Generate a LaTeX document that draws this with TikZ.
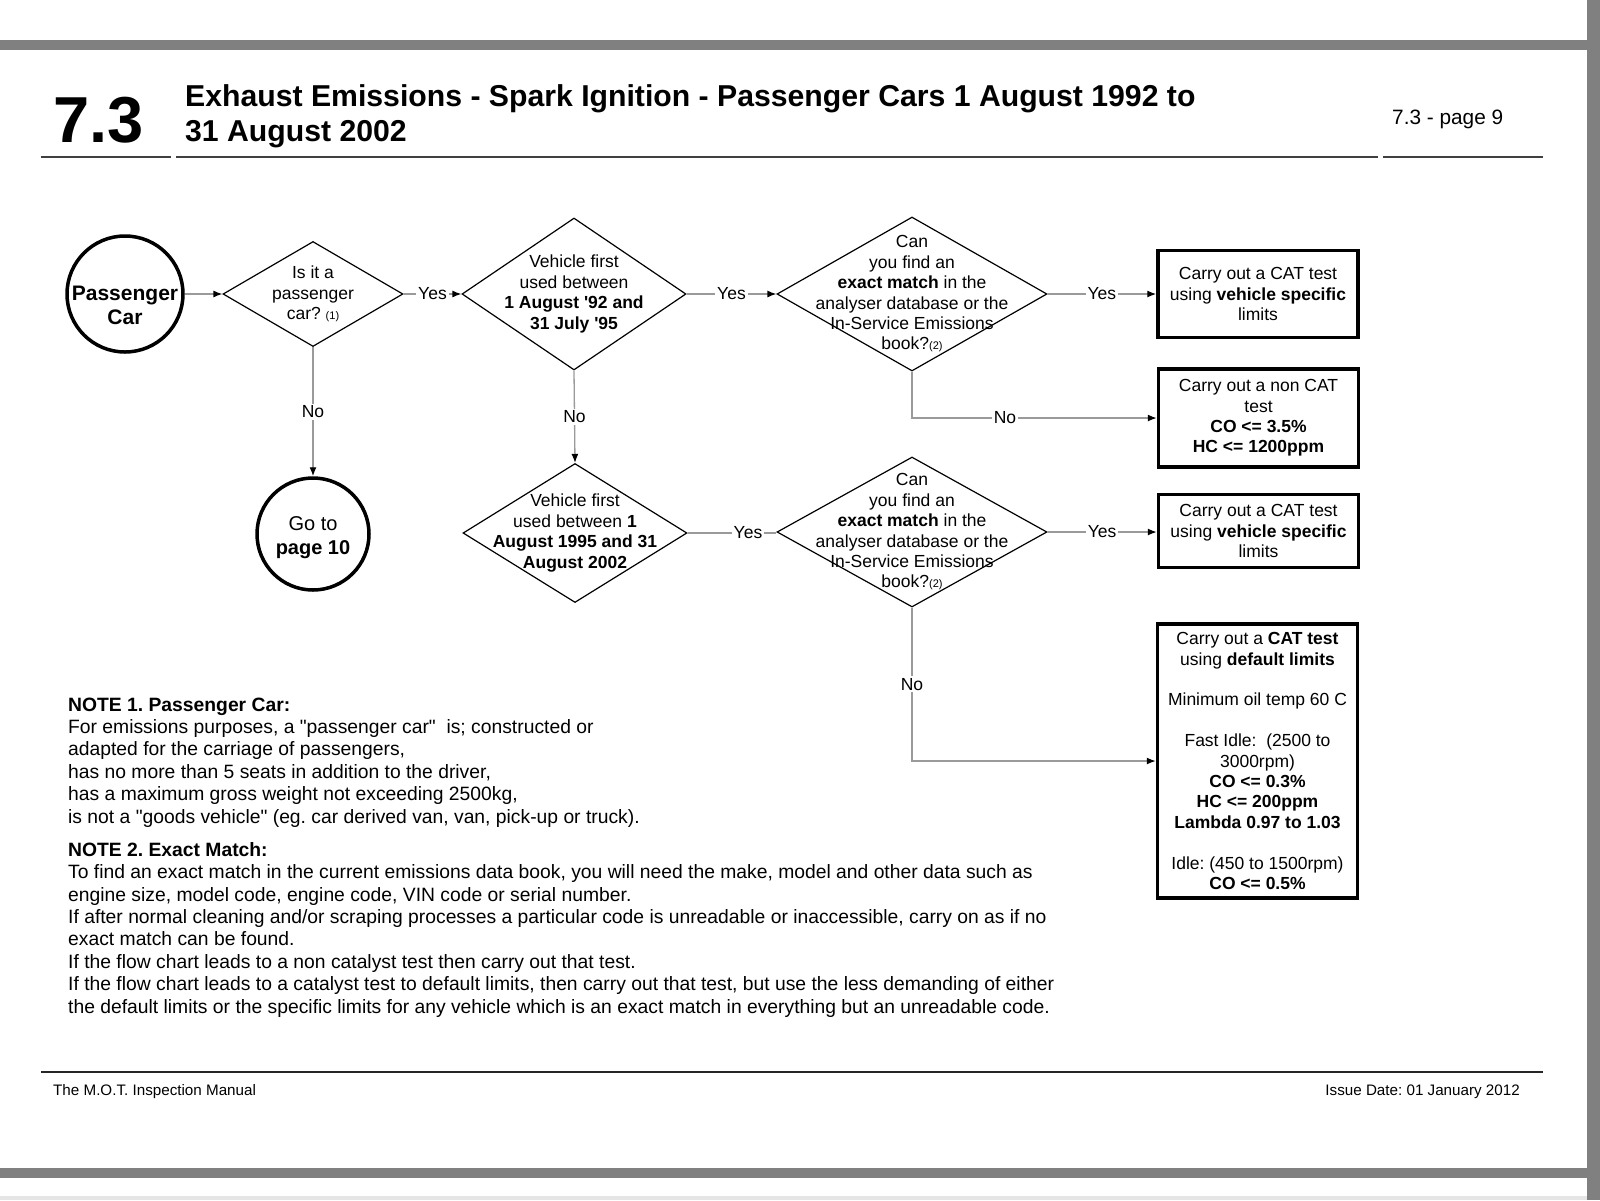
\documentclass[tikz,border=0pt]{standalone}
\usepackage{fontspec}
\setmainfont{Liberation Sans}
\usetikzlibrary{arrows.meta, positioning, shapes.geometric}
\definecolor{motGray}{HTML}{808080}
\definecolor{lineGray}{HTML}{9A9A9A}
\newcommand{\setfs}[2]{\fontsize{#1}{#2}\selectfont}
\newcommand{\refno}[1]{{\setfs{11}{11}#1}}
\newcommand{\sq}{\XeTeXglyph\XeTeXcharglyph"0027\relax}
\newcommand{\dq}{\XeTeXglyph\XeTeXcharglyph"0022\relax}
\frenchspacing

\begin{document}
\begin{tikzpicture}[
  x=1pt, y=-1pt,
  decision/.style={diamond, draw, line width=1.2pt, inner sep=0pt},
  dtext/.style={align=center, inner sep=0pt, font=\setfs{17.5}{20.4}},
  testbox/.style={rectangle, draw, line width=3.5pt, inner sep=0pt,
    minimum width=200pt, align=center, font=\setfs{17.5}{20.4}},
  terminal/.style={circle, draw, line width=3.5pt, inner sep=0pt},
  arrow/.style={draw=lineGray, line width=1.3pt, -{Latex[length=9pt, width=7pt, color=black]}},
  link/.style={draw=lineGray, line width=1.3pt},
  lab/.style={fill=white, inner sep=2pt, font=\setfs{17.5}{20.4}},
  notetext/.style={anchor=base west, align=left, inner sep=0pt, font=\setfs{19.3}{22.4}},
]
\useasboundingbox (0,0) rectangle (1600,1200);

% Page frame
\fill[white] (0,0) rectangle (1600,1200);
\fill[motGray] (0,40) rectangle (1587,50);
\fill[motGray] (0,1168) rectangle (1587,1178);
\fill[motGray] (1587,0) rectangle (1600,1200);
\fill[black!10] (0,1196) rectangle (1587,1200);

% Header
\node[anchor=base west, inner sep=0pt, font=\setfs{65}{65}\bfseries] (secno) at (53,142) {7.3};
\node[anchor=base west, inner sep=0pt, font=\setfs{30.2}{35}\bfseries] (title1) at (185,106)
  {Exhaust Emissions - Spark Ignition - Passenger Cars 1 August 1992 to};
\node[anchor=base west, inner sep=0pt, font=\setfs{30.2}{35}\bfseries] (title2) at (185,141)
  {31 August 2002};
\node[anchor=base west, inner sep=0pt, font=\setfs{20.8}{24}] (pageno) at (1392,124) {7.3 - page 9};
\draw[black!75, line width=1.5pt] (41,157) -- (171,157);
\draw[black!75, line width=1.5pt] (176,157) -- (1378,157);
\draw[black!75, line width=1.5pt] (1383,157) -- (1543,157);

% Start and end
\node[terminal, minimum size=116pt] (pc) at (125,294) {};
\node[align=center, inner sep=0pt, font=\setfs{21}{24.5}\bfseries] (pct) at ([yshift=-11.5pt]pc.center) {Passenger\\Car};
\node[terminal, minimum size=112pt] (goto) at (313,534) {};
\node[align=center, inner sep=0pt, font=\setfs{20}{24}] (gotot) at ([yshift=-3.5pt]goto.center) {Go to\\\textbf{page 10}};

% Decisions
\node[decision, minimum width=180pt, minimum height=105pt] (d1) at (313,294) {};
\node[dtext] (d1t) at (d1) {Is it a\\passenger\\car? \refno{(1)}};
\node[decision, minimum width=224pt, minimum height=152pt] (d2) at (574,294) {};
\node[dtext] (d2t) at (d2) {Vehicle first\\used between\\\textbf{1 August \sq92 and}\\\textbf{31 July \sq95}};
\node[decision, minimum width=270pt, minimum height=154pt] (d3) at (912,294) {};
\node[dtext] (d3t) at (d3) {Can\\you find an\\\textbf{exact match} in the\\analyser database or the\\In-Service Emissions\\book?\refno{(2)}};
\node[decision, minimum width=224pt, minimum height=139pt] (d4) at (575,533) {};
\node[dtext] (d4t) at (d4) {Vehicle first\\used between \textbf{1}\\\textbf{August 1995 and 31}\\\textbf{August 2002}};
\node[decision, minimum width=270pt, minimum height=150pt] (d5) at (912,532) {};
\node[dtext] (d5t) at (d5) {Can\\you find an\\\textbf{exact match} in the\\analyser database or the\\In-Service Emissions\\book?\refno{(2)}};

% Tests
\node[testbox, minimum height=87pt] (box1) at (1258,294)
  {Carry out a CAT test\\using \textbf{vehicle specific}\\limits};
\node[testbox, minimum height=98pt] (box2) at (1258.5,418)
  {Carry out a non CAT\\test\\\textbf{CO <= 3.5\%}\\\textbf{HC <= 1200ppm}};
\node[testbox, minimum height=73pt] (box3) at (1258.5,531)
  {Carry out a CAT test\\using \textbf{vehicle specific}\\limits};
\node[testbox, minimum height=274pt] (box4) at (1257.5,761)
  {Carry out a \textbf{CAT test}\\using \textbf{default limits}\\[20.4pt]
   Minimum oil temp 60 C\\[20.4pt]
   Fast Idle:\ \ (2500 to\\3000rpm)\\\textbf{CO <= 0.3\%}\\\textbf{HC <= 200ppm}\\\textbf{Lambda 0.97 to 1.03}\\[20.4pt]
   Idle: (450 to 1500rpm)\\\textbf{CO <= 0.5\%}};

% Connectors
\draw[arrow] (pc.east) -- (d1.west);
\draw[arrow] (d1.east) -- node[lab] {Yes} (d2.west);
\draw[arrow] (d2.east) -- node[lab] {Yes} (d3.west);
\draw[arrow] (d3.east) -- node[lab] {Yes} (d3.east -| box1.west);
\draw[arrow] (d3.south) |- node[lab, pos=0.69] {No} (box2.west);
\draw[arrow] (d1.south) -- node[lab] {No} (goto.north);
\draw[arrow] (d2.south) -- node[lab] {No} (d4.north);
\draw[link] (d4.east) -- node[lab, pos=0.68] {Yes} (d4.east -| d5.west);
\draw[arrow] (d5.east) -- node[lab] {Yes} (d5.east -| box3.west);
\draw[arrow] (d5.south) |- node[lab, pos=0.25] {No} (box4.west);

% Notes (anchored on their last line)
\node[notetext] (note1) at (68,823)
  {\textbf{NOTE 1. Passenger Car:}\\
   For emissions purposes, a \dq passenger car\dq\ \ is; constructed or\\
   adapted for the carriage of passengers,\\
   has no more than 5 seats in addition to the driver,\\
   has a maximum gross weight not exceeding 2500kg,\\
   is not a \dq goods vehicle\dq\ (eg. car derived van, van, pick-up or truck).};
\node[notetext] (note2) at (68,1013)
  {\textbf{NOTE 2. Exact Match:}\\
   To find an exact match in the current emissions data book, you will need the make, model and other data such as\\
   engine size, model code, engine code, VIN code or serial number.\\
   If after normal cleaning and/or scraping processes a particular code is unreadable or inaccessible, carry on as if no\\
   exact match can be found.\\
   If the flow chart leads to a non catalyst test then carry out that test.\\
   If the flow chart leads to a catalyst test to default limits, then carry out that test, but use the less demanding of either\\
   the default limits or the specific limits for any vehicle which is an exact match in everything but an unreadable code.};

% Footer
\draw[black!85, line width=2.5pt] (41,1072) -- (1543,1072);
\node[anchor=base west, inner sep=0pt, font=\setfs{15.2}{18}] (manual) at (53,1095) {The M.O.T. Inspection Manual};
\node[anchor=base east, inner sep=0pt, font=\setfs{15.2}{18}] (issue) at (1520,1095) {Issue Date: 01 January 2012};
\end{tikzpicture}
\end{document}
